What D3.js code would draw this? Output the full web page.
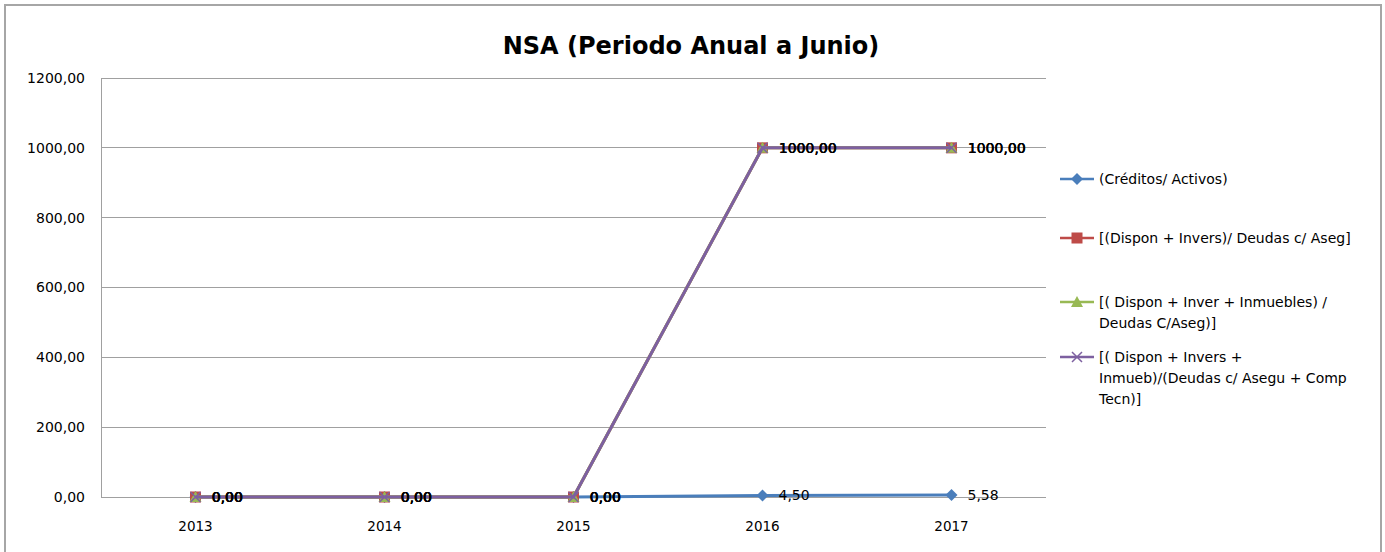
<!DOCTYPE html>
<html><head><meta charset="utf-8">
<script src="https://cdn.jsdelivr.net/npm/d3@7"></script>
<style>body{margin:0;background:#fff;} svg{display:block;}</style>
</head><body>
<svg id="c" width="1385" height="552"></svg>
<script>
const categories = ["2013","2014","2015","2016","2017"];
const seriesNames = [
  "(Créditos/ Activos)",
  "[(Dispon + Invers)/ Deudas c/ Aseg]",
  "[( Dispon + Inver + Inmuebles) / Deudas C/Aseg)]",
  "[( Dispon + Invers + Inmueb)/(Deudas c/ Asegu + Comp Tecn)]"
];
const legendLines = [
  ["(Créditos/ Activos)"],
  ["[(Dispon + Invers)/ Deudas c/ Aseg]"],
  ["[( Dispon + Inver + Inmuebles) /","Deudas C/Aseg)]"],
  ["[( Dispon + Invers +","Inmueb)/(Deudas c/ Asegu + Comp","Tecn)]"]
];
const creditos = [0, 0, 0, 4.50, 5.58];
const disponInvers = [0, 0, 0, 1000, 1000];
const disponInverInmuebles = [0, 0, 0, 1000, 1000];
const disponInversInmuebComp = [0, 0, 0, 1000, 1000];
const yTicks = [0, 200, 400, 600, 800, 1000, 1200];
const colors = ["#4A7EBB", "#BE4B48", "#98B954", "#7D60A0"];
const markers = ["diamond", "square", "triangle", "x"];
const allSeries = [creditos, disponInvers, disponInverInmuebles, disponInversInmuebComp];

const svg = d3.select("#c");
const font = "'DejaVu Sans', Verdana, sans-serif";
const fmt = v => d3.format(".2f")(v).replace(".", ",");

// outer border
svg.append("rect").attr("x",5).attr("y",5).attr("width",1376).attr("height",560)
  .attr("fill","#fff").attr("stroke","#a6a6a6").attr("stroke-width",2);

const L = 101, R = 1046, T = 78, B = 497;
const x = d3.scaleBand().domain(categories).range([L, R]);
const y = d3.scaleLinear().domain([0, 1200]).range([B, T]);

// title
svg.append("text").attr("x", 691).attr("y", 54).attr("text-anchor","middle")
  .attr("font-family", font).attr("font-weight","bold").attr("font-size", 24)
  .attr("fill","#000").text("NSA (Periodo Anual a Junio)");

// gridlines
svg.append("g").selectAll("line").data(yTicks).join("line")
  .attr("x1", L).attr("x2", R).attr("y1", d => y(d)).attr("y2", d => y(d))
  .attr("stroke", "#a0a0a0").attr("stroke-width", 1).attr("shape-rendering","crispEdges");
svg.append("line").attr("x1", L).attr("x2", L).attr("y1", T).attr("y2", B)
  .attr("stroke", "#a0a0a0").attr("shape-rendering","crispEdges");

// y axis labels
const yAxis = d3.axisLeft(y).tickValues(yTicks).tickFormat(fmt).tickSize(0).tickPadding(16);
const yg = svg.append("g").attr("transform", `translate(${L},0)`).call(yAxis);
yg.select(".domain").remove();
yg.selectAll("text").attr("font-family", font).attr("font-size", 14).attr("fill","#000");

// x axis labels
const xAxis = d3.axisBottom(x).tickSize(0).tickPadding(24);
const xg = svg.append("g").attr("transform", `translate(0,${B})`).call(xAxis);
xg.select(".domain").remove();
xg.selectAll("text").attr("font-family", font).attr("font-size", 13.5).attr("fill","#000");

const cx = d => x(d) + x.bandwidth()/2;
const line = d3.line().x((d,i) => cx(categories[i])).y(d => y(d));

function drawMarker(g, type, color, px, py) {
  if (type === "diamond") {
    g.append("path").attr("d", `M${px},${py-6}L${px+6},${py}L${px},${py+6}L${px-6},${py}Z`).attr("fill", color);
  } else if (type === "square") {
    g.append("rect").attr("x", px-5.5).attr("y", py-5.5).attr("width", 11).attr("height", 11).attr("fill", color);
  } else if (type === "triangle") {
    g.append("path").attr("d", `M${px},${py-6}L${px+6},${py+5}L${px-6},${py+5}Z`).attr("fill", color);
  } else {
    g.append("path").attr("d", `M${px-5},${py-5}L${px+5},${py+5}M${px+5},${py-5}L${px-5},${py+5}`)
      .attr("stroke", color).attr("stroke-width", 1.5).attr("fill","none");
  }
}

allSeries.forEach((vals, si) => {
  const g = svg.append("g");
  g.append("path").attr("d", line(vals)).attr("fill","none")
    .attr("stroke", colors[si]).attr("stroke-width", 3).attr("stroke-linejoin","round");
  vals.forEach((v, i) => drawMarker(g, markers[si], colors[si], cx(categories[i]), y(v)));
});

// data labels
allSeries.forEach((vals, si) => {
  svg.append("g").selectAll("text").data(vals).join("text")
    .attr("x", (d,i) => cx(categories[i]) + 16 + (si % 2) * 0.4)
    .attr("y", d => y(d) + 5)
    .attr("font-family", font).attr("font-size", 14).attr("fill", "#000")
    .text(d => fmt(d));
});

// legend
const legY = [179, 238, 302, 357];
legendLines.forEach((lines, si) => {
  const g = svg.append("g");
  const ly = legY[si];
  g.append("line").attr("x1", 1060).attr("x2", 1094).attr("y1", ly).attr("y2", ly)
    .attr("stroke", colors[si]).attr("stroke-width", 2.5);
  drawMarker(g, markers[si], colors[si], 1077, ly);
  lines.forEach((t, k) => {
    g.append("text").attr("x", 1099).attr("y", ly + 5 + k * 21)
      .attr("font-family", font).attr("font-size", 14).attr("fill", "#000").text(t);
  });
});
</script>
</body></html>
